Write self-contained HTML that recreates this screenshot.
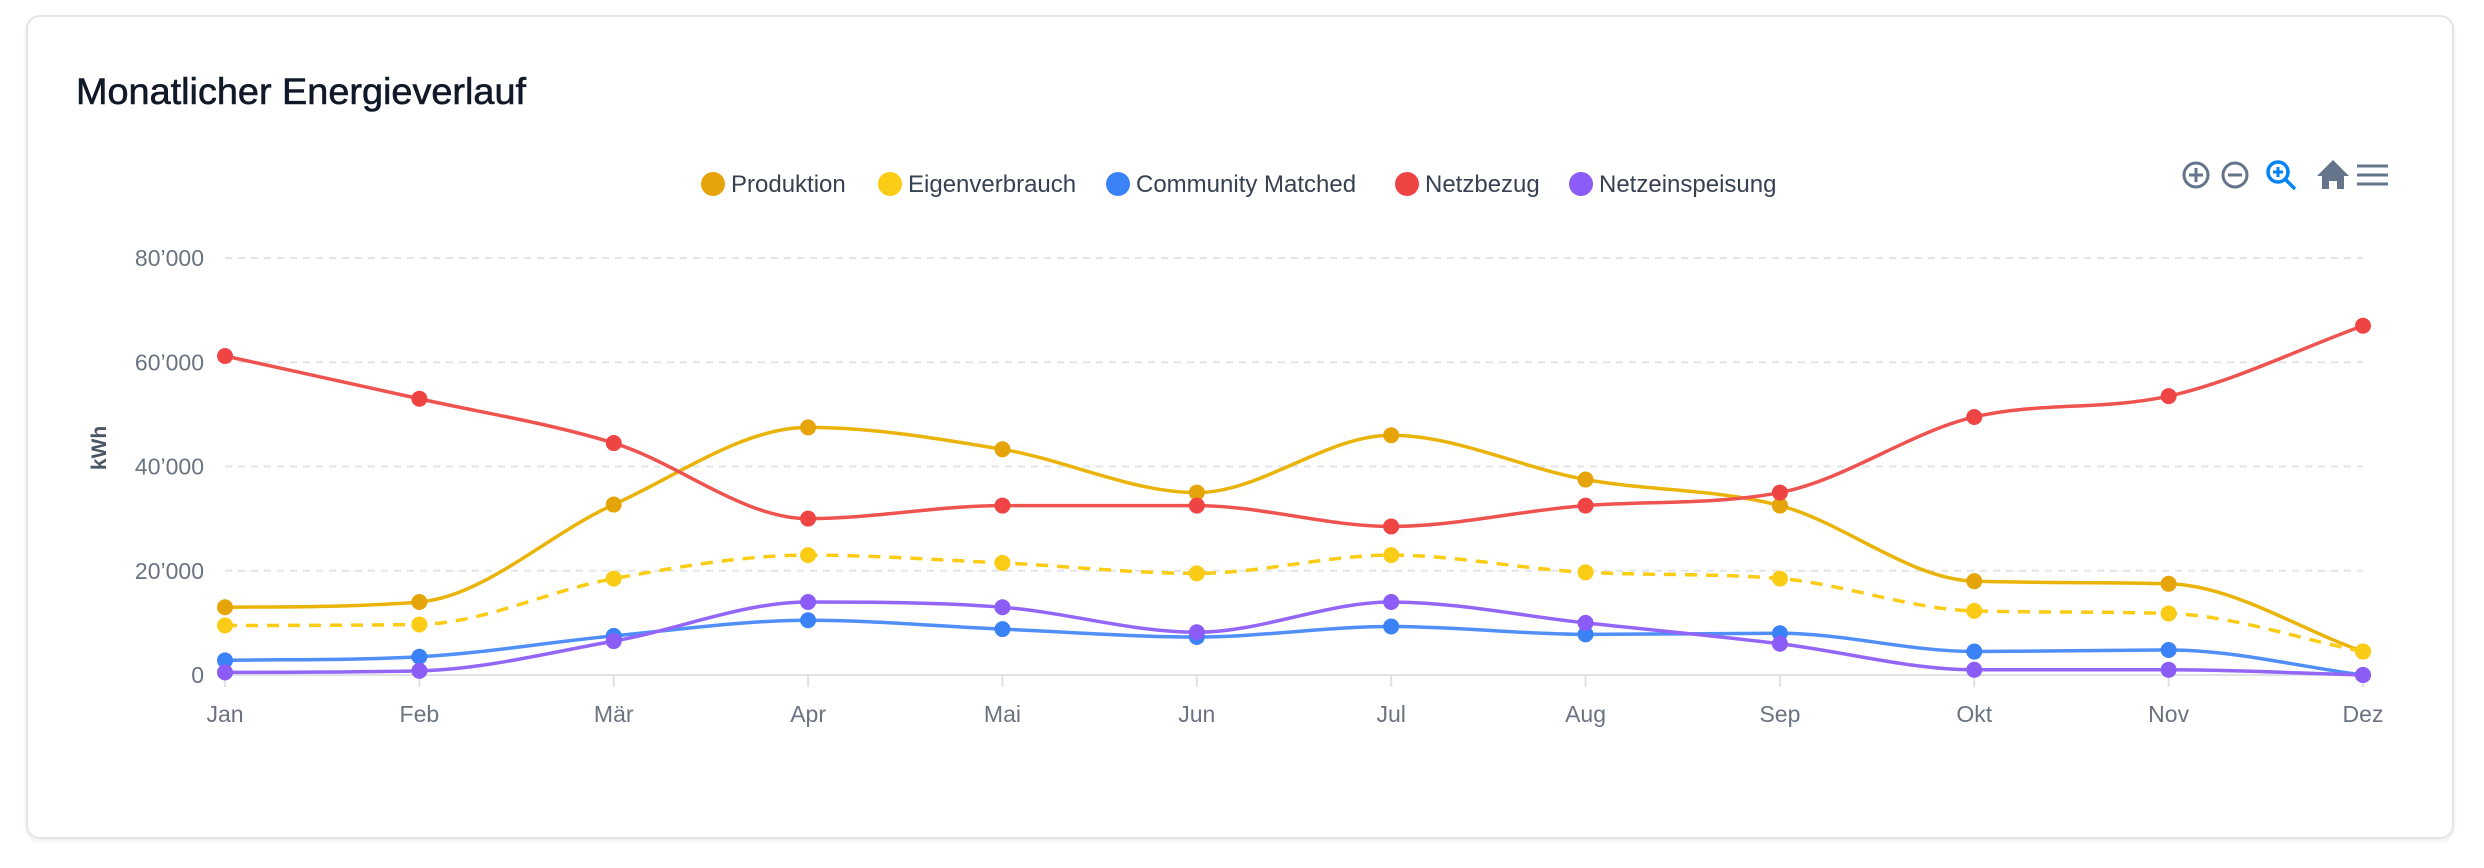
<!DOCTYPE html>
<html><head><meta charset="utf-8">
<style>
html,body{margin:0;padding:0;background:#fff;width:2484px;height:868px;overflow:hidden;font-family:"Liberation Sans",sans-serif;}
.card{position:absolute;left:26px;top:15px;width:2428px;height:824px;border:2px solid #e3e5e8;border-radius:14px;box-sizing:border-box;box-shadow:0 2px 4px rgba(0,0,0,0.08);background:#fff;}
svg{position:absolute;left:0;top:0;}
</style></head><body>
<div class="card"></div>
<svg id="s" width="2484" height="868" xmlns="http://www.w3.org/2000/svg">
<text x="76" y="104" font-size="37" fill="#111827" stroke="#111827" stroke-width="0.6" font-family="Liberation Sans, sans-serif" textLength="450" lengthAdjust="spacingAndGlyphs">Monatlicher Energieverlauf</text>
<g font-size="24" fill="#374151" font-family="Liberation Sans, sans-serif">
<circle cx="713" cy="184" r="12" fill="#E5A50A"/><text x="731" y="192">Produktion</text>
<circle cx="890" cy="184" r="12" fill="#FACC15"/><text x="908" y="192">Eigenverbrauch</text>
<circle cx="1118" cy="184" r="12" fill="#3B82F6"/><text x="1136" y="192">Community Matched</text>
<circle cx="1407" cy="184" r="12" fill="#EF4444"/><text x="1425" y="192">Netzbezug</text>
<circle cx="1581" cy="184" r="12" fill="#8B5CF6"/><text x="1599" y="192">Netzeinspeisung</text>
</g>
<g stroke="#64748b" stroke-width="3" fill="none">
<circle cx="2196" cy="175" r="12"/><line x1="2189" y1="175" x2="2203" y2="175"/><line x1="2196" y1="168" x2="2196" y2="182"/>
<circle cx="2235" cy="175" r="12"/><line x1="2228" y1="175" x2="2242" y2="175"/>
</g>
<g stroke="#0284f5" stroke-width="3.5" fill="none">
<circle cx="2278" cy="172" r="10"/><line x1="2285" y1="179" x2="2295" y2="189"/><line x1="2273" y1="172" x2="2283" y2="172" stroke-width="3"/><line x1="2278" y1="167" x2="2278" y2="177" stroke-width="3"/>
</g>
<path d="M2333 160 L2349 176 L2344 176 L2344 189 L2337 189 L2337 181 L2329 181 L2329 189 L2322 189 L2322 176 L2317 176 Z" fill="#64748b"/>
<g stroke="#64748b" stroke-width="3"><line x1="2357" y1="166" x2="2388" y2="166"/><line x1="2357" y1="175" x2="2388" y2="175"/><line x1="2357" y1="184" x2="2388" y2="184"/></g>
<g id="grid"></g>
<text transform="translate(106,448) rotate(-90)" text-anchor="middle" font-size="21" font-weight="bold" fill="#4b5563" font-family="Liberation Sans, sans-serif">kWh</text>
<g id="series"></g>
</svg>
<script>
var NS="http://www.w3.org/2000/svg",s=document.getElementById('s');
var g=document.getElementById('grid'),sr=document.getElementById('series');
function el(t,a,p){var e=document.createElementNS(NS,t);for(var k in a)e.setAttribute(k,a[k]);(p||g).appendChild(e);return e;}
var x0=225,dx=(2363-225)/11,y0=675,ys=(675-258)/80000;
function X(i){return x0+i*dx;}function Y(v){return y0-v*ys;}
for(var k=0;k<=4;k++){var y=Y(k*20000);
 if(k>0)el('line',{x1:x0,x2:2363,y1:y,y2:y,stroke:'#e2e4e8','stroke-width':2,'stroke-dasharray':'7 6'});
 var t=el('text',{x:204,y:y+8,'text-anchor':'end','font-size':23,fill:'#6b7280','font-family':'Liberation Sans, sans-serif'});
 t.textContent=k==0?'0':(k*20)+"’000";}
el('line',{x1:x0,x2:2363,y1:y0,y2:y0,stroke:'#e0e2e6','stroke-width':2});
var m=['Jan','Feb','Mär','Apr','Mai','Jun','Jul','Aug','Sep','Okt','Nov','Dez'];
for(var i=0;i<12;i++){el('line',{x1:X(i),x2:X(i),y1:y0,y2:y0+12,stroke:'#e0e2e6','stroke-width':2});
 var t=el('text',{x:X(i),y:722,'text-anchor':'middle','font-size':23,fill:'#6b7280','font-family':'Liberation Sans, sans-serif'});t.textContent=m[i];}
var D=[
 ['#E5A50A','#EAB308',[13000,14000,32700,47500,43300,35000,46000,37500,32500,18000,17500,4500],0],
 ['#FACC15','#FACC15',[9500,9700,18500,23000,21500,19500,23000,19700,18500,12300,11800,4500],1],
 ['#3B82F6','#4F8FF7',[2800,3500,7500,10500,8800,7300,9300,7800,8000,4500,4800,0],0],
 ['#EF4444','#EF5350',[61200,53000,44500,30000,32500,32500,28500,32500,35000,49500,53500,67000],0],
 ['#8B5CF6','#9466F7',[500,800,6500,14000,13000,8200,14000,10000,6000,1000,1000,0],0]];
function path(p){var n=p.length,d=[],mm=[];
 for(var i=0;i<n-1;i++)d.push((p[i+1][1]-p[i][1])/(p[i+1][0]-p[i][0]));
 for(var i=0;i<n;i++){if(i==0)mm.push(d[0]);else if(i==n-1)mm.push(d[n-2]);else mm.push(d[i-1]*d[i]<=0?0:(d[i-1]+d[i])/2);}
 for(var i=0;i<n-1;i++){if(d[i]==0){mm[i]=0;mm[i+1]=0;continue;}var a=mm[i]/d[i],b=mm[i+1]/d[i],h=a*a+b*b;if(h>9){var t=3/Math.sqrt(h);mm[i]=t*a*d[i];mm[i+1]=t*b*d[i];}}
 var s='M'+p[0][0]+' '+p[0][1];
 for(var i=0;i<n-1;i++){var h=(p[i+1][0]-p[i][0])/3;s+=' C'+(p[i][0]+h)+' '+(p[i][1]+mm[i]*h)+' '+(p[i+1][0]-h)+' '+(p[i+1][1]-mm[i+1]*h)+' '+p[i+1][0]+' '+p[i+1][1];}
 return s;}
D.forEach(function(ser){var p=ser[2].map(function(v,i){return[X(i),Y(v)];});
 var a={d:path(p),fill:'none',stroke:ser[1],'stroke-width':3.5};if(ser[3])a['stroke-dasharray']='12 9';
 el('path',a,sr);});
D.forEach(function(ser){ser[2].forEach(function(v,i){el('circle',{cx:X(i),cy:Y(v),r:8,fill:ser[0]},sr);});});
</script>
</body></html>
